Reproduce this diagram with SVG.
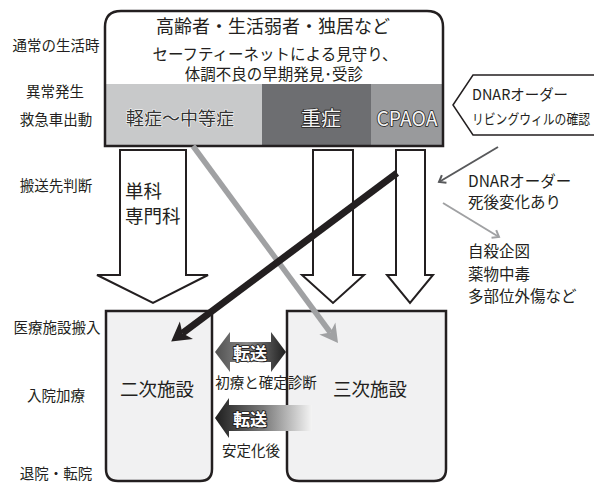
<svg xmlns="http://www.w3.org/2000/svg" width="594" height="483" viewBox="0 0 594 483">
<defs>
<style>
.jp{font-family:"Noto Sans CJK JP","Noto Sans CJK SC",sans-serif;fill:#231f20;dominant-baseline:central}
.lbl{font-size:14.5px;text-anchor:middle}
.box{stroke:#231f20;stroke-width:2.5;fill:#f1f1f2}
.darr{fill:#fff;stroke:#231f20;stroke-width:2}
.halo{paint-order:stroke;stroke-linejoin:round}
.light{fill:#333;stroke:#fff;stroke-width:1.2}
.inv{fill:#f4f4f4;stroke:#231f20;stroke-width:1.6}
.xfer{fill:#fff;stroke:#231f20;stroke-width:1.8;font-weight:bold}
</style>
<linearGradient id="gDouble" x1="215" y1="0" x2="286" y2="0" gradientUnits="userSpaceOnUse">
<stop offset="0" stop-color="#505050"/>
<stop offset="0.45" stop-color="#8a8a8a"/>
<stop offset="1" stop-color="#1e1e1e"/>
</linearGradient>
<linearGradient id="gLeft" x1="215" y1="0" x2="312" y2="0" gradientUnits="userSpaceOnUse">
<stop offset="0" stop-color="#1e1e1e"/>
<stop offset="0.5" stop-color="#7a7a7a"/>
<stop offset="1" stop-color="#f4f4f4"/>
</linearGradient>
<marker id="mBlack" markerUnits="userSpaceOnUse" markerWidth="24" markerHeight="28" viewBox="-2 -13 24 26" refX="5" refY="0" orient="auto">
<path d="M0,-11 L19,0 L0,11 L5,0 Z" fill="#231f20"/>
</marker>
<marker id="mGray" markerUnits="userSpaceOnUse" markerWidth="24" markerHeight="28" viewBox="-2 -13 24 26" refX="5" refY="0" orient="auto">
<path d="M0,-10 L18,0 L0,10 L5,0 Z" fill="#a0a1a3"/>
</marker>
<marker id="mSmallDark" markerUnits="userSpaceOnUse" markerWidth="14" markerHeight="14" viewBox="-7 -7 14 14" refX="0" refY="0" orient="auto">
<path d="M-6,-4.5 L0,0 L-6,4.5" fill="none" stroke="#58595b" stroke-width="2"/>
</marker>
<marker id="mSmallLight" markerUnits="userSpaceOnUse" markerWidth="14" markerHeight="14" viewBox="-7 -7 14 14" refX="0" refY="0" orient="auto">
<path d="M-6,-4.5 L0,0 L-6,4.5" fill="none" stroke="#a0a1a3" stroke-width="2"/>
</marker>
</defs>
<rect width="594" height="483" fill="#fff"/>

<g id="stage-labels">
<text class="jp lbl" x="56" y="44">通常の生活時</text>
<text class="jp lbl" x="55" y="90">異常発生</text>
<text class="jp lbl" x="56" y="118">救急車出動</text>
<text class="jp lbl" x="56" y="184">搬送先判断</text>
<text class="jp lbl" x="57" y="326">医療施設搬入</text>
<text class="jp lbl" x="56" y="394">入院加療</text>
<text class="jp lbl" x="56" y="472">退院・転院</text>
</g>

<g id="top-box">
<rect x="106" y="84" width="156" height="62" fill="#c8c9ca"/>
<rect x="262" y="84" width="109" height="62" fill="#6d6e71"/>
<rect x="371" y="84" width="72" height="62" fill="#999a9c"/>
<path d="M105,146 V27 Q105,11 121,11 H427 Q443,11 443,27 V146 Z" fill="none" stroke="#231f20" stroke-width="2.5"/>
<text class="jp" x="273" y="25" font-size="18" text-anchor="middle">高齢者・生活弱者・独居など</text>
<text class="jp" x="275" y="53" font-size="15.5" text-anchor="middle">セーフティーネットによる見守り、</text>
<text class="jp" x="274" y="73" font-size="15.5" text-anchor="middle">体調不良の早期発見･受診</text>
<text class="jp halo light" x="180" y="117" font-size="18" text-anchor="middle">軽症〜中等症</text>
<text class="jp halo inv" x="321" y="117" font-size="20" text-anchor="middle">重症</text>
<text class="jp halo inv" x="407" y="117" font-size="20" text-anchor="middle" textLength="61" lengthAdjust="spacingAndGlyphs">CPAOA</text>
</g>

<g id="dnar-callout">
<path d="M453,105 L473,75 H596 V135 H473 Z" fill="#fff" stroke="#231f20" stroke-width="1.5"/>
<text class="jp" x="472" y="93" font-size="15" textLength="96" lengthAdjust="spacingAndGlyphs">DNARオーダー</text>
<text class="jp" x="472" y="118" font-size="14" textLength="118" lengthAdjust="spacingAndGlyphs">リビングウィルの確認</text>
</g>

<g id="down-arrows">
<path class="darr" d="M120,150 H186 V275 H208 L153,303 L97,275 H120 Z"/>
<path class="darr" d="M313,150 H353 V275 H364 L333,303 L302,275 H313 Z"/>
<path class="darr" d="M396,150 H425 V275 H433 L410,303 L387,275 H396 Z"/>
<text class="jp" x="125" y="190" font-size="18.5">単科</text>
<text class="jp" x="125" y="215" font-size="18.5">専門科</text>
</g>

<g id="side-notes">
<text class="jp" x="468" y="180" font-size="15.5">DNARオーダー</text>
<text class="jp" x="468" y="201" font-size="15.5">死後変化あり</text>
<text class="jp" x="468" y="250" font-size="15.5">自殺企図</text>
<text class="jp" x="468" y="273" font-size="15.5">薬物中毒</text>
<text class="jp" x="468" y="295" font-size="15.5">多部位外傷など</text>
</g>

<g id="secondary">
<path class="box" d="M106,311 V469 Q106,481 118,481 H200 Q212,481 212,469 V311 Z"/>
<text class="jp" x="157" y="388" font-size="18.5" text-anchor="middle">二次施設</text>
</g>

<g id="tertiary">
<path class="box" d="M287,311 V469 Q287,481 299,481 H434 Q446,481 446,469 V311 Z"/>
<text class="jp" x="370" y="388" font-size="18.5" text-anchor="middle">三次施設</text>
</g>

<g id="connectors">
<line x1="193" y1="146" x2="330.3" y2="332.5" stroke="#a0a1a3" stroke-width="5.5" marker-end="url(#mGray)"/>
<line x1="397" y1="173" x2="182.4" y2="333.2" stroke="#231f20" stroke-width="7" marker-end="url(#mBlack)"/>
<line x1="498" y1="147" x2="439" y2="182" stroke="#58595b" stroke-width="2" marker-end="url(#mSmallDark)"/>
<line x1="443" y1="203" x2="499" y2="237" stroke="#a0a1a3" stroke-width="2" marker-end="url(#mSmallLight)"/>
</g>

<g id="transfer-both">
<path d="M215,352 L230,332 V342 H271 V332 L286,352 L271,372 V362 H230 V372 Z" fill="url(#gDouble)"/>
<text class="jp halo xfer" x="250" y="352" font-size="17" text-anchor="middle">転送</text>
<text class="jp" x="266" y="381" font-size="14.5" text-anchor="middle">初療と確定診断</text>
</g>

<g id="transfer-back">
<path d="M215,418 L229,398 V405 H312 V431 H229 V438 Z" fill="url(#gLeft)"/>
<text class="jp halo xfer" x="250" y="418" font-size="17" text-anchor="middle">転送</text>
<text class="jp" x="251" y="449" font-size="14.5" text-anchor="middle">安定化後</text>
</g>
</svg>
